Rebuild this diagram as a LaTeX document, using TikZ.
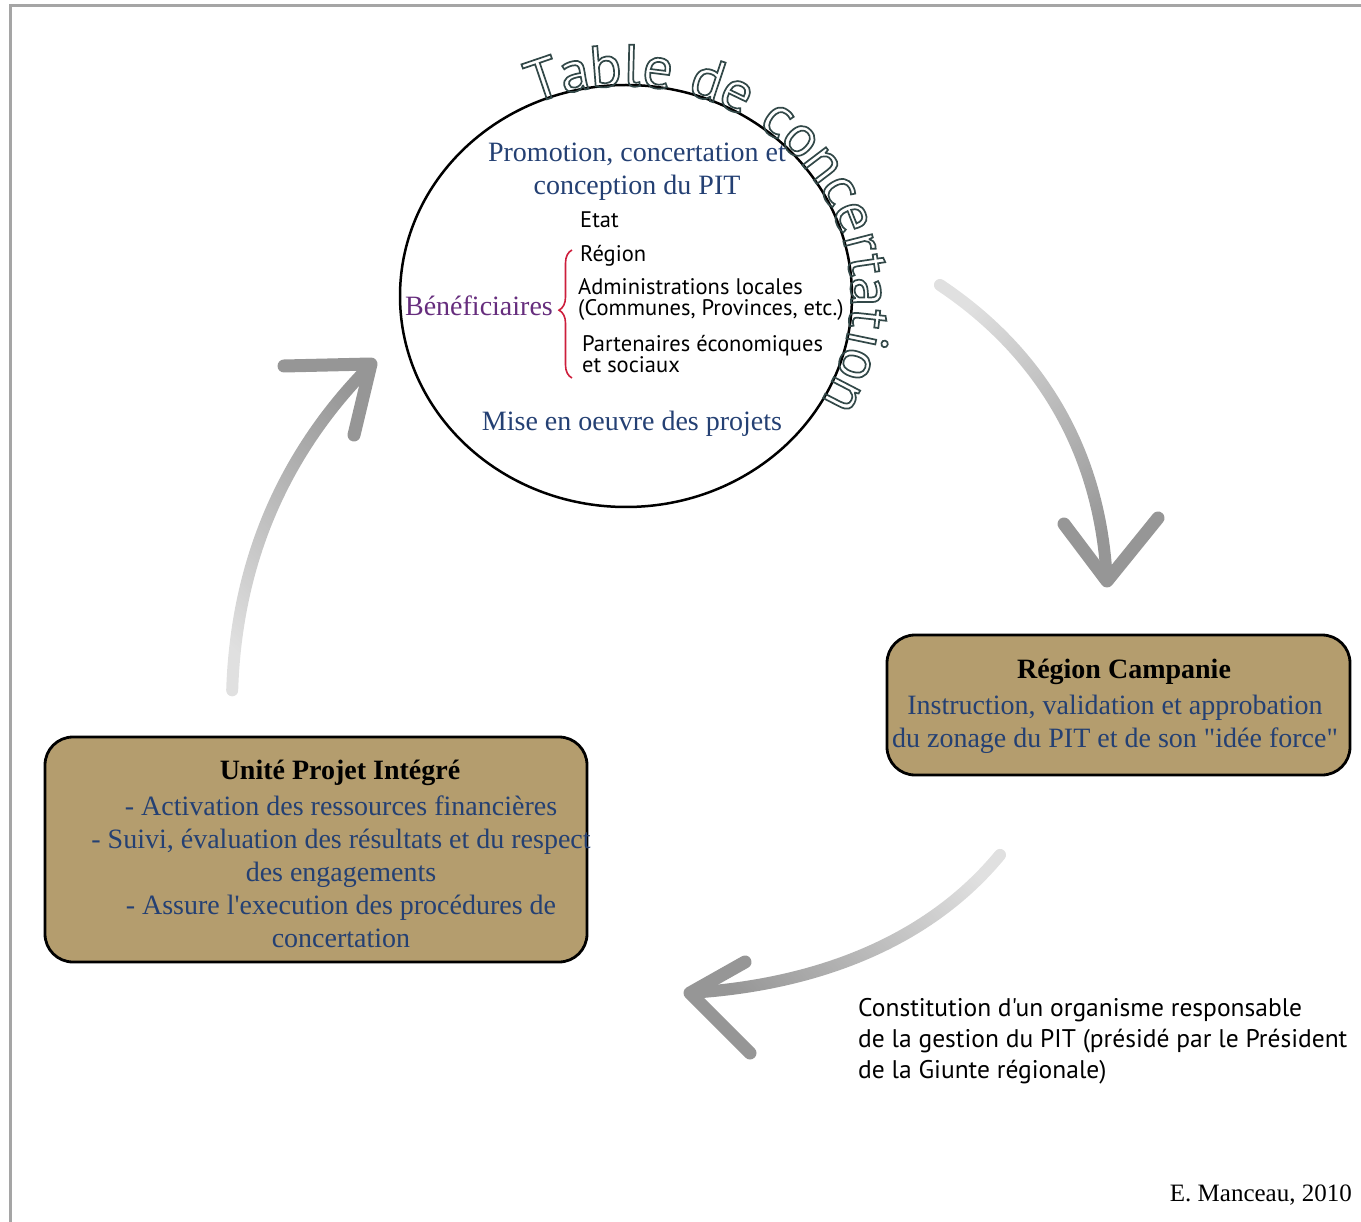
\documentclass[tikz,border=0pt]{standalone}
\usepackage{fontspec}
\usetikzlibrary{shapes.geometric,decorations.text,decorations.pathreplacing,fadings}
\newfontfamily\serifA{Liberation Serif}
\newfontfamily\sansA{PT Sans}
\definecolor{tblue}{RGB}{36,64,115}
\definecolor{boxtan}{RGB}{180,157,110}
\definecolor{agrey}{RGB}{150,150,150}
\definecolor{frameg}{RGB}{165,165,165}
\definecolor{bpurple}{RGB}{102,45,125}
\definecolor{bred}{RGB}{205,30,60}
\definecolor{tline}{RGB}{50,72,72}
\newcommand\titlechar[1]{\special{pdf:literal direct 1 Tr 1.7 w}#1\special{pdf:literal direct 0 Tr}}
\tikzfading[name=tailfade, left color=transparent!70, right color=transparent!0]
\begin{document}
\begin{tikzpicture}[x=1pt,y=-1pt,
  tanbox/.style={draw=black, line width=2.8pt, fill=boxtan, rounded corners=28pt, inner sep=0pt},
  bluetxt/.style={font=\serifA\fontsize{28}{33}\selectfont, text=tblue, inner sep=0pt},
  boxtitle/.style={font=\serifA\bfseries\fontsize{28}{33}\selectfont, text=black, inner sep=0pt},
  sanstxt/.style={font=\sansA\fontsize{22.5}{21}\selectfont, text=black, inner sep=0pt},
  sanstxtb/.style={font=\sansA\fontsize{25.5}{31}\selectfont, text=black, inner sep=0pt},
  abody/.style={draw=agrey, line width=12pt, line cap=round},
  ahead/.style={draw=agrey, line width=13pt, line cap=round, line join=round}
]
\useasboundingbox (0,0) rectangle (1361,1222);
% frame
\draw[frameg, line width=3pt] (10,1222) -- (10,6) -- (1361,6);

% circle
\node[draw=black, line width=2.5pt, ellipse, minimum width=452pt, minimum height=422pt, inner sep=0pt] (table) at (626,296) {};

% title along arc
\path[decorate, decoration={text effects along path, text={Table de concertation},
  text effects/.cd, characters={text=tline, font=\sansA\fontsize{59}{59}\selectfont, transform shape, anchor=base},
  character command=\titlechar, fit text to path}]
  (626,296) ++(-115:225 and 210) arc[start angle=-115, end angle=31, x radius=225, y radius=210];

% circle content
\node[bluetxt, align=center] (pro) at (637,172) {Promotion, concertation et\\conception du PIT};
\node[sanstxt, anchor=west] (etat) at (580,220) {Etat};
\node[sanstxt, anchor=west] (reg) at (580,256) {Région};
\node[sanstxt, anchor=west, align=left] (adm) at (578,299) {Administrations locales\\(Communes, Provinces, etc.)};
\node[sanstxt, anchor=west, align=left] (par) at (582,354) {Partenaires économiques\\et sociaux};
\node[font=\serifA\fontsize{28}{33}\selectfont, text=bpurple, inner sep=0pt, anchor=east] (ben) at (553,306) {Bénéficiaires};
\draw[bred, line width=1.6pt, decorate, decoration={brace, amplitude=13pt, aspect=0.53}] (572,378) -- (572,250);
\node[bluetxt] (mise) at (632,424) {Mise en oeuvre des projets};

% right box
\node[tanbox, minimum width=463pt, minimum height=140pt] (rc) at (1118.5,705) {};
\node[boxtitle] (rct) at (1124,672) {Région Campanie};
\node[bluetxt, align=center] (rcb) at (1115,724) {Instruction, validation et approbation\\du zonage du PIT et de son "idée force"};

% left box
\node[tanbox, minimum width=542pt, minimum height=225pt] (up) at (316,849.5) {};
\node[boxtitle] (upt) at (340,773) {Unité Projet Intégré};
\node[bluetxt, align=center] (upb) at (341,872) {- Activation des ressources financières\\- Suivi, évaluation des résultats et du respect\\des engagements\\- Assure l'execution des procédures de\\concertation};

% bottom label
\node[sanstxtb, anchor=west, align=left] (const) at (858,1041) {Constitution d'un organisme responsable\\de la gestion du PIT (présidé par le Président\\de la Giunte régionale)};

% author
\node[font=\serifA\fontsize{25}{30}\selectfont, inner sep=0pt, anchor=east] (auth) at (1352,1195) {E. Manceau, 2010};

% arrows
\coordinate (a1s) at (940,285);
\coordinate (a1e) at (1107,581);
\draw[abody, path fading=tailfade, fading angle=-61] (a1s) .. controls (1030,345) and (1100,440) .. (a1e);
\draw[ahead] (1064,524) -- (a1e) -- (1158,518);

\coordinate (a2s) at (1000,855);
\coordinate (a2e) at (690,993);
\draw[abody, path fading=tailfade, fading angle=-156] (a2s) .. controls (930,940) and (820,985) .. (a2e);
\draw[ahead] (745,962) -- (a2e) -- (750,1053);

\coordinate (a3s) at (232,690);
\coordinate (a3e) at (371,364);
\draw[abody, path fading=tailfade, fading angle=67] (a3s) .. controls (236,560) and (285,450) .. (a3e);
\draw[ahead] (284,366) -- (a3e) -- (354,435);
\end{tikzpicture}
\end{document}
